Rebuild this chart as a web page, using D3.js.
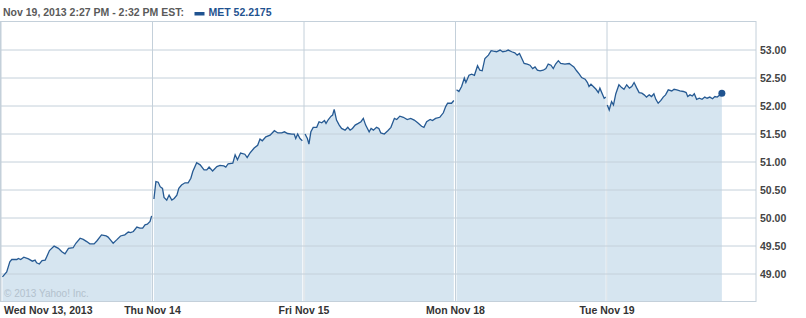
<!DOCTYPE html>
<html>
<head>
<meta charset="utf-8">
<script src="https://cdn.jsdelivr.net/npm/d3@7"></script>
<style>
  body { margin: 0; background: #fff; }
  svg text { font-family: "Liberation Sans", Arial, sans-serif; }
  .tick line { stroke: #c4d0da; }
  .domain { display: none; }
</style>
</head>
<body>
<div id="chart"></div>
<script>
// MET 5-day intraday, [minutes after 9:30 open, price]
var wedData = [[5,48.94],[16,49.03],[24,49.21],[29,49.25],[42,49.25],[46,49.27],[52,49.25],[60,49.29],[72,49.26],[82,49.22],[89,49.24],[93,49.19],[100,49.17],[107,49.23],[115,49.24],[119,49.30],[126,49.41],[138,49.49],[149,49.45],[158,49.39],[166,49.35],[175,49.45],[187,49.46],[194,49.54],[205,49.63],[213,49.61],[222,49.57],[230,49.53],[241,49.53],[249,49.59],[260,49.69],[272,49.67],[277,49.65],[284,49.59],[290,49.54],[299,49.60],[309,49.67],[320,49.69],[329,49.74],[335,49.73],[342,49.75],[351,49.83],[359,49.81],[366,49.81],[372,49.87],[378,49.88],[385,49.93],[389,50.03]];
var thuData = [[5,50.33],[10,50.64],[16,50.63],[21,50.55],[27,50.52],[31,50.36],[38,50.31],[44,50.40],[51,50.31],[57,50.34],[64,50.40],[69,50.52],[76,50.58],[85,50.62],[93,50.62],[100,50.70],[105,50.82],[115,50.98],[124,50.94],[134,50.85],[141,50.85],[147,50.90],[156,50.83],[167,50.91],[175,50.93],[185,50.92],[190,50.90],[196,50.96],[208,50.97],[214,51.12],[220,51.03],[228,51.15],[239,51.13],[245,51.07],[252,51.15],[263,51.24],[272,51.29],[278,51.40],[284,51.37],[293,51.44],[304,51.47],[315,51.55],[324,51.51],[334,51.51],[341,51.53],[349,51.50],[360,51.49],[366,51.49],[370,51.41],[375,51.49],[381,51.41],[387,51.37]];
var friData = [[4,51.49],[10,51.41],[14,51.31],[19,51.53],[25,51.61],[34,51.61],[40,51.71],[47,51.69],[54,51.73],[58,51.68],[64,51.75],[71,51.81],[75,51.83],[79,51.93],[85,51.74],[92,51.65],[98,51.59],[107,51.56],[114,51.61],[120,51.56],[126,51.59],[133,51.65],[141,51.68],[148,51.71],[154,51.77],[160,51.65],[169,51.53],[174,51.59],[180,51.56],[188,51.61],[194,51.59],[199,51.51],[208,51.49],[217,51.55],[225,51.61],[234,51.77],[240,51.75],[248,51.81],[257,51.79],[267,51.75],[276,51.77],[285,51.74],[294,51.69],[304,51.63],[310,51.61],[317,51.71],[326,51.75],[332,51.73],[340,51.77],[351,51.79],[360,51.87],[366,51.98],[371,52.04],[381,52.04],[387,52.09]];
var monData = [[4,52.28],[10,52.25],[17,52.34],[24,52.49],[28,52.41],[36,52.54],[43,52.56],[50,52.54],[58,52.71],[64,52.63],[70,52.62],[77,52.84],[86,52.90],[93,52.98],[99,52.97],[107,52.96],[116,52.99],[123,52.96],[131,52.97],[137,52.99],[146,52.96],[154,52.94],[160,52.90],[166,52.93],[172,52.84],[178,52.75],[186,52.74],[193,52.72],[200,52.66],[206,52.69],[212,52.63],[219,52.62],[227,52.63],[234,52.66],[240,52.74],[247,52.72],[253,52.66],[259,52.74],[266,52.80],[272,52.75],[283,52.74],[294,52.75],[300,52.72],[306,52.69],[313,52.62],[320,52.56],[326,52.50],[335,52.47],[341,52.41],[345,52.34],[350,52.38],[356,52.34],[363,52.29],[369,52.23],[373,52.31],[379,52.21],[384,52.13],[388,52.15]];
var tueData = [[2,52.01],[7,51.92],[13,52.07],[18,52.01],[24,52.21],[32,52.37],[39,52.32],[45,52.29],[52,52.37],[59,52.31],[65,52.34],[71,52.41],[78,52.31],[84,52.23],[91,52.22],[97,52.19],[103,52.15],[110,52.19],[116,52.16],[122,52.21],[127,52.11],[133,52.04],[140,52.09],[146,52.15],[152,52.19],[159,52.28],[168,52.26],[174,52.29],[181,52.28],[189,52.26],[198,52.25],[205,52.23],[209,52.16],[215,52.19],[221,52.17],[226,52.21],[232,52.11],[239,52.13],[246,52.11],[253,52.15],[259,52.13],[266,52.15],[273,52.12],[279,52.16],[285,52.15],[297,52.2175]];

var days = [wedData, thuData, friData, monData, tueData];
var dayLabels = ["Wed Nov 13, 2013", "Thu Nov 14", "Fri Nov 15", "Mon Nov 18", "Tue Nov 19"];
var yTicks = [49, 49.5, 50, 50.5, 51, 51.5, 52, 52.5, 53];
var headerText = "Nov 19, 2013 2:27 PM - 2:32 PM EST:";
var symbol = "MET";
var lastPrice = 52.2175;

var W = 806, H = 318;
var plotLeft = 0.5, plotRight = 756, plotTop = 21.5, plotBottom = 301.5;
var sessionMin = 390;

var svg = d3.select("#chart").append("svg")
  .attr("width", W)
  .attr("height", H);

var x = d3.scaleLinear().domain([0, 5]).range([0.5, 758]);
var y = d3.scaleLinear().domain([48.5, 53.5]).range([plotBottom, plotTop]);

function tx(dayIdx, d) { return x(dayIdx + d[0] / sessionMin); }

// day separators
var xAxis = svg.append("g")
  .attr("transform", "translate(0," + plotBottom + ")")
  .call(d3.axisBottom(x).tickValues([0, 1, 2, 3, 4])
    .tickSizeInner(-(plotBottom - plotTop)).tickSizeOuter(0).tickPadding(5)
    .tickFormat(function(i) { return dayLabels[i]; }));

xAxis.selectAll("text")
  .style("font-size", "10.5px")
  .style("font-weight", "bold")
  .attr("fill", "#333");
xAxis.selectAll(".tick").filter(function(d) { return d === 0; }).select("text")
  .attr("text-anchor", "start")
  .attr("x", 3);

// area per day
var area = d3.area()
  .y0(plotBottom)
  .y1(function(d) { return y(d[1]); });

var line = d3.line()
  .y(function(d) { return y(d[1]); });

days.forEach(function(data, i) {
  area.x(function(d) { return tx(i, d); });
  svg.append("path")
    .datum(data)
    .attr("d", area)
    .attr("fill", "#d6e5f0");
});

// horizontal gridlines + right labels
var yAxis = svg.append("g")
  .attr("transform", "translate(" + plotRight + ",0)")
  .call(d3.axisRight(y).tickValues(yTicks)
    .tickSizeInner(-plotRight).tickSizeOuter(0).tickPadding(4)
    .tickFormat(d3.format(".2f")));

yAxis.selectAll("text")
  .style("font-size", "10.5px")
  .style("font-weight", "bold")
  .attr("fill", "#444")
  .attr("dy", "0.35em");

// frame
svg.append("rect")
  .attr("x", plotLeft)
  .attr("y", plotTop)
  .attr("width", plotRight - plotLeft)
  .attr("height", plotBottom - plotTop)
  .attr("fill", "none")
  .attr("stroke", "#c4d0da");

// price line
days.forEach(function(data, i) {
  line.x(function(d) { return tx(i, d); });
  svg.append("path")
    .datum(data)
    .attr("d", line)
    .attr("fill", "none")
    .attr("stroke", "#265a93")
    .attr("stroke-width", 1.3);
});

var last = tueData[tueData.length - 1];
svg.append("circle")
  .attr("cx", tx(4, last))
  .attr("cy", y(last[1]))
  .attr("r", 3.5)
  .attr("fill", "#1f5390");

// header
svg.append("text")
  .attr("x", 3)
  .attr("y", 16)
  .style("font-size", "10.5px")
  .style("font-weight", "bold")
  .attr("fill", "#5a5a5a")
  .text(headerText);

svg.append("rect")
  .attr("x", 194.5)
  .attr("y", 12)
  .attr("width", 10)
  .attr("height", 3.5)
  .attr("fill", "#1f5390");

svg.append("text")
  .attr("x", 208.5)
  .attr("y", 16)
  .style("font-size", "10.5px")
  .style("font-weight", "bold")
  .attr("fill", "#1f5390")
  .text(symbol + " " + lastPrice);

svg.append("text")
  .attr("x", 4)
  .attr("y", 296.5)
  .style("font-size", "10px")
  .attr("fill", "#b3c1cd")
  .text("\u00a9 2013 Yahoo! Inc.");
</script>
</body>
</html>
